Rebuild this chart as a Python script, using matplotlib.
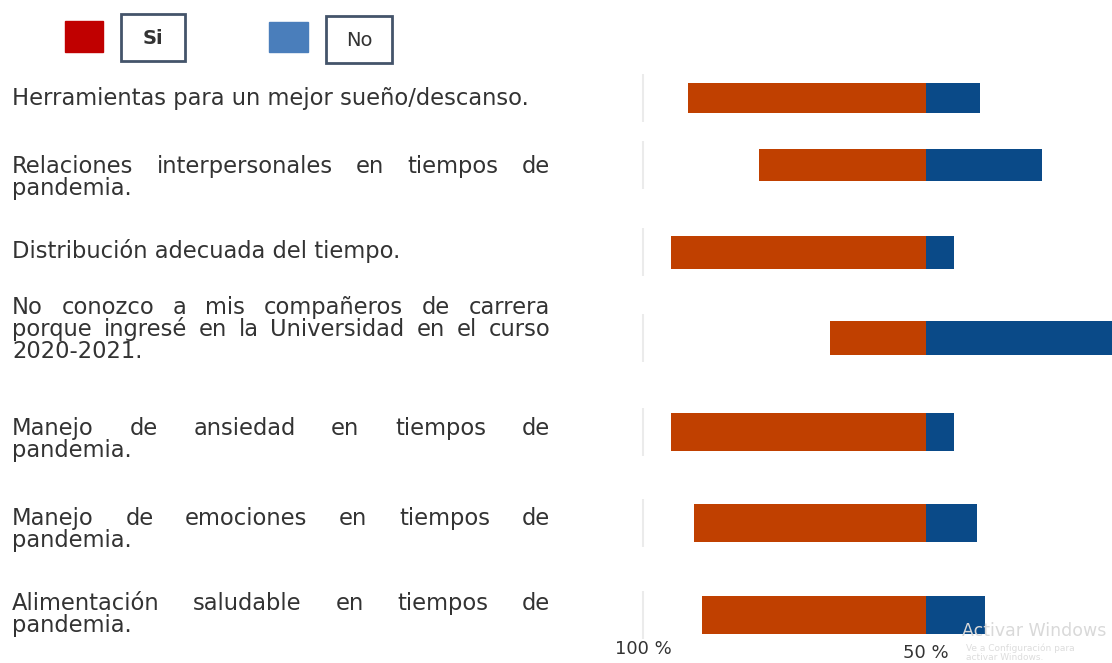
import matplotlib
matplotlib.use("Agg")
import matplotlib.pyplot as plt
from matplotlib.patches import Rectangle

W, H = 1112, 663

# category texts (one list of lines per item, last line is not justified)
labels = [
    ["Herramientas para un mejor sueño/descanso."],
    ["Relaciones interpersonales en tiempos de", "pandemia."],
    ["Distribución adecuada del tiempo."],
    ["No conozco a mis compañeros de carrera",
     "porque ingresé en la Universidad en el curso",
     "2020-2021."],
    ["Manejo de ansiedad en tiempos de", "pandemia."],
    ["Manejo de emociones en tiempos de", "pandemia."],
    ["Alimentación saludable en tiempos de", "pandemia."],
]
si = [84, 59, 90, 34, 90, 82, 79]
no = [19, 41, 10, 66, 10, 18, 21]
tick_pos = [-100, 0]
tick_labels = ["100 %", "50 %"]

# layout (pixels from top)
row_y = [98, 165, 252, 338, 432, 523, 615]
bar_h = [30, 32, 33, 34, 38, 38, 38]
first_base = [105, 173, 258, 314, 435, 525, 610]
line_step = 22
text_x0, text_x1 = 12, 550

c_si = "#C04000"
c_no = "#0A4A88"
c_txt = "#333333"
fsize = 16.3

fig = plt.figure(figsize=(W / 100, H / 100), dpi=100)
fig.patch.set_facecolor("white")


def fx(x):
    return x / W


def fy(y):
    return 1 - y / H


# bars axes: x=0 sits at 926 px, 2.83 px per percent
ax_l, ax_r, ax_t, ax_b = 600, 1112, 70, 640
ax = fig.add_axes([fx(ax_l), fy(ax_b), (ax_r - ax_l) / W, (ax_b - ax_t) / H])
scale = 2.83
x_c = 926
ax.set_xlim((ax_l - x_c) / scale, (ax_r - x_c) / scale)
ax.set_ylim(ax_b, ax_t)

ax.vlines([-100] * len(row_y), [y - 24 for y in row_y], [y + 24 for y in row_y],
          color="#ebebeb", lw=1.5, zorder=0)
ax.barh(row_y, [-v for v in si], height=bar_h, color=c_si, lw=0)
ax.barh(row_y, no, height=bar_h, color=c_no, lw=0)

for s in ax.spines.values():
    s.set_visible(False)
ax.set_yticks([])
ax.set_xticks(tick_pos)
ax.set_xticklabels(tick_labels, fontsize=13, color="#333333",
                   fontfamily="DejaVu Sans")
ax.tick_params(axis="x", length=0, pad=0)
ax.xaxis.get_major_ticks()[1].set_pad(3)

# category text, justified like the source
renderer = fig.canvas.get_renderer()
for lines, base in zip(labels, first_base):
    for i, line in enumerate(lines):
        yb = fy(base + i * line_step)
        last = i == len(lines) - 1
        if last:
            fig.text(fx(text_x0), yb, line, fontsize=fsize, color=c_txt,
                     va="baseline", ha="left")
            continue
        words = line.split()
        ts = [fig.text(0, yb, w, fontsize=fsize, color=c_txt,
                       va="baseline", ha="left") for w in words]
        widths = [t.get_window_extent(renderer).width for t in ts]
        gap = (text_x1 - text_x0 - sum(widths)) / (len(words) - 1)
        x = text_x0
        for t, w in zip(ts, widths):
            t.set_x(fx(x))
            x += w + gap

# legend boxes
fig.patches.append(Rectangle((fx(65), fy(52)), 38 / W, 31 / H,
                             transform=fig.transFigure, color="#C00000"))
fig.patches.append(Rectangle((fx(121), fy(61)), 64 / W, 47 / H,
                             transform=fig.transFigure, fc="white",
                             ec="#44546A", lw=2))
fig.text(fx(153), fy(38), "Si", fontsize=14, color="#333333",
         ha="center", va="center", fontweight="bold")
fig.patches.append(Rectangle((fx(269), fy(52)), 39 / W, 30 / H,
                             transform=fig.transFigure, color="#4A7EBB"))
fig.patches.append(Rectangle((fx(326), fy(63)), 66 / W, 47 / H,
                             transform=fig.transFigure, fc="white",
                             ec="#44546A", lw=2))
fig.text(fx(359), fy(40), "No", fontsize=14, color="#333333",
         ha="center", va="center")

# faint watermark from the screenshot
fig.text(fx(962), fy(636), "Activar Windows", fontsize=12.5, color="#d9d9d9",
         ha="left", va="baseline")
fig.text(fx(966), fy(651), "Ve a Configuración para",
         fontsize=6.5, color="#dddddd", ha="left", va="baseline")
fig.text(fx(966), fy(660), "activar Windows.",
         fontsize=6.5, color="#dddddd", ha="left", va="baseline")

plt.savefig("out.png", dpi=100)
